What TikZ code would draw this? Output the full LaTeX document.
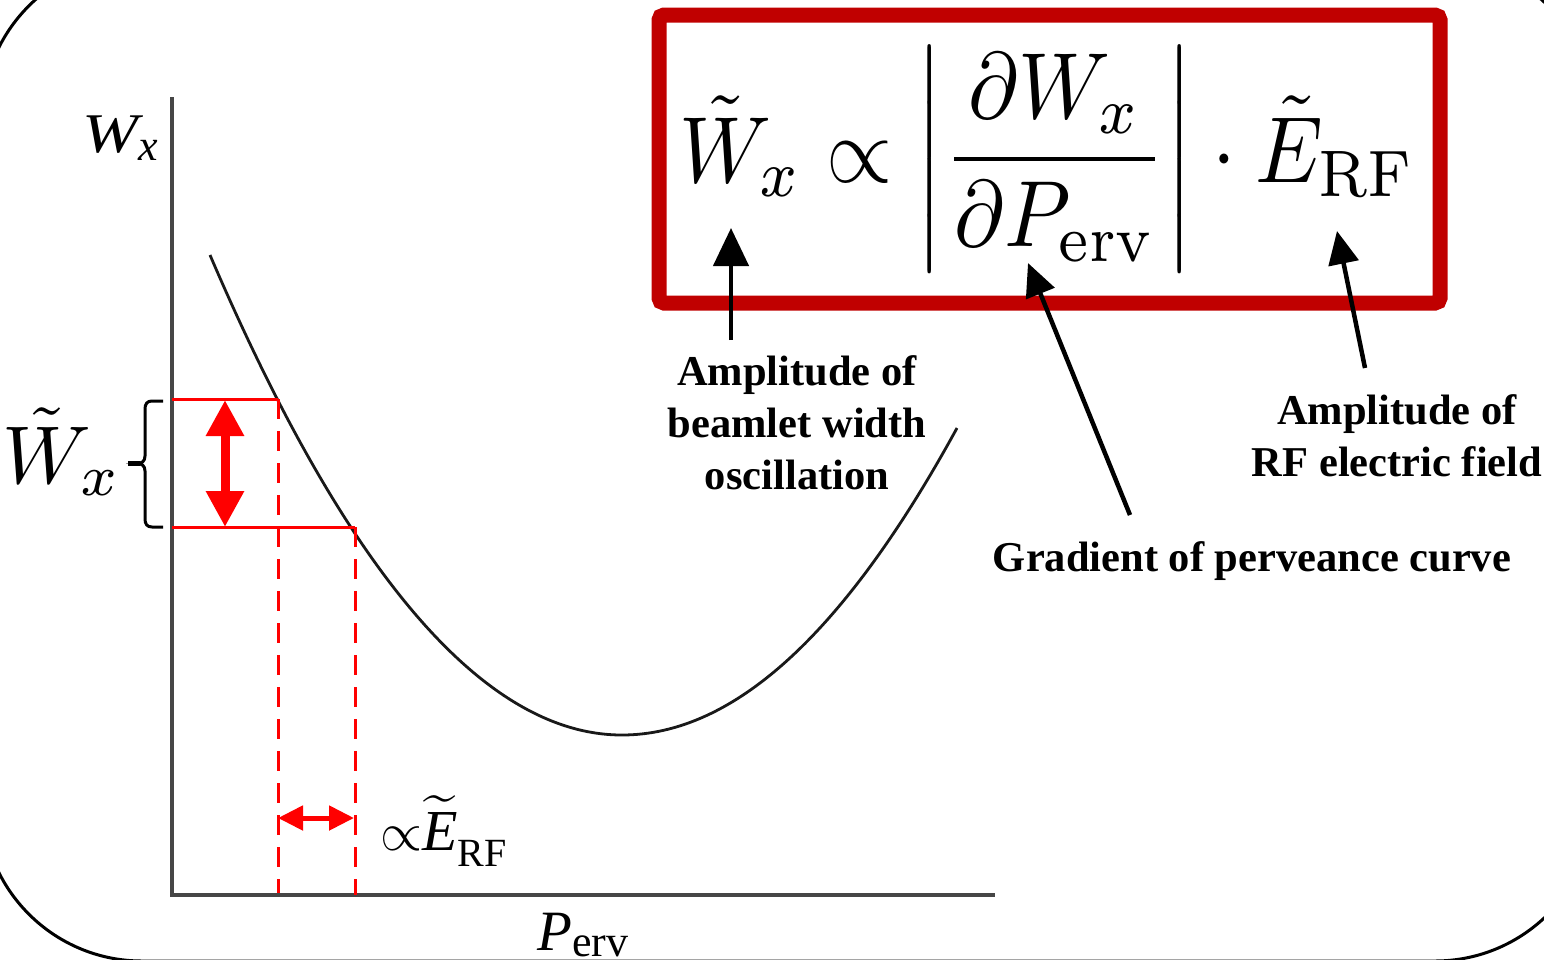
\documentclass[tikz,border=0pt]{standalone}
\usepackage{graphicx}
\usepackage{fontspec}
\newfontfamily\tnr{Liberation Serif}
\usetikzlibrary{arrows.meta}
\definecolor{boxred}{RGB}{192,0,0}
\definecolor{linered}{RGB}{255,0,0}
\definecolor{axisgray}{RGB}{70,70,70}
\definecolor{curvegray}{RGB}{25,25,25}
\begin{document}
\begin{tikzpicture}[x=1pt,y=-1pt,
  redline/.style={linered, line width=3pt},
  reddash/.style={linered, line width=3pt, dash pattern=on 20pt off 12pt},
  axisline/.style={axisgray, line width=4pt},
  callout/.style={black, line width=4.5pt, -{Triangle[length=33pt,width=30pt]}},
  lbl/.style={font=\tnr\bfseries\fontsize{42.5}{52}\selectfont, align=center, inner sep=0pt},
]
\useasboundingbox (0,0) rectangle (1544,959);
% outer frame
\draw[line width=3pt, rounded corners=160pt] (-18,-41) rectangle (1595,961);

% axes
\coordinate (ytop) at (172,97);
\coordinate (origin) at (172,895);
\coordinate (xend) at (995,895);
\draw[axisline] (ytop) -- (origin) -- (xend);

% curve
\coordinate (cstart) at (210,255);
\coordinate (cmin) at (622,735);
\coordinate (cend) at (957,428);
\draw[curvegray, line width=2.8pt] (cstart) .. controls (347,575) and (485,735) .. (cmin)
  .. controls (734,735) and (845,633) .. (cend);

% red construction lines
\coordinate (h1a) at (172,399); \coordinate (h1b) at (278,399);
\coordinate (h2a) at (172,527); \coordinate (h2b) at (355,527);
\coordinate (d1) at (278,893); \coordinate (d2) at (355,895);
\draw[redline] (h1a) -- (h1b);
\draw[redline] (h2a) -- (h2b);
\draw[reddash] (h1b) -- (d1);
\draw[reddash] (h2b) -- (d2);

% red double arrows
\coordinate (va1) at (225,400); \coordinate (va2) at (225,527);
\draw[linered, line width=9pt, {Triangle[length=36pt,width=36pt]}-{Triangle[length=36pt,width=36pt]}] (va1) -- (va2);
\coordinate (ha1) at (278,818); \coordinate (ha2) at (354,818);
\draw[linered, line width=5pt, {Triangle[length=25pt,width=24pt]}-{Triangle[length=25pt,width=24pt]}] (ha1) -- (ha2);

% brace
\coordinate (br1) at (163,527); \coordinate (br2) at (163,401);
\coordinate (brtip) at (128,463.5);
\draw[line width=3pt] (br2) -- (152,401) .. controls (147,401) and (145,404) .. (145,409)
  -- (145,456) .. controls (145,461) and (142,463.5) .. (137,463.5)
  .. controls (142,463.5) and (145,466) .. (145,471)
  -- (145,519) .. controls (145,524) and (147,527) .. (152,527) -- (br1);
\draw[line width=5pt] (brtip) -- (140,463.5);

% labels on the plot
\node[anchor=base, inner sep=0pt] (wtl) at (62,483) {\scalebox{8.2}{$\tilde{W}_x$}};
\node[anchor=base, inner sep=0pt] (ylab) at (120,152) {\tnr\itshape\fontsize{56}{56}\selectfont\scalebox{1.2}[1]{W}\raisebox{-8pt}{\fontsize{44}{44}\selectfont x}};
\node[anchor=base, inner sep=0pt] (xlab) at (583,950) {\tnr\fontsize{57}{57}\selectfont\textit{P}\raisebox{-6pt}{\fontsize{44}{44}\selectfont erv}};
\node[anchor=base west, inner sep=0pt] (erf) at (380,850) {\scalebox{5.4}{$\propto$}\scalebox{5.8}{$\widetilde{\hbox{\tnr\itshape E}}$}\raisebox{-16pt}{\tnr\fontsize{40}{40}\selectfont RF}};

% formula box
\node[draw=boxred, line width=15pt, rounded corners=5pt, minimum width=781pt, minimum height=288pt, inner sep=0pt] (eq) at (1049.5,159)
 {\hspace*{-4pt}\scalebox{8.5}[9.4]{$\displaystyle \tilde{W}_x \propto \left|\frac{\partial W_x}{\partial P_{\mathrm{erv}}}\right| \cdot \tilde{E}_{\mathrm{RF}}$}};

% callout labels
\node[lbl] (amp1) at (797,423) {Amplitude of\\beamlet width\\oscillation};
\node[lbl] (amp2) at (1397,436) {Amplitude of\\RF electric field};
\node[lbl, anchor=base] (grad) at (1252,571) {Gradient of perveance curve};

% callout arrows
\coordinate (t1) at (731,228); \coordinate (s1) at (731,340);
\coordinate (t2) at (1028,263); \coordinate (s2) at (1130,515);
\coordinate (t3) at (1337,231); \coordinate (s3) at (1365,368);
\draw[callout, -{Triangle[length=38pt,width=35pt]}] (s1) -- (t1);
\draw[callout] (s2) -- (t2);
\draw[callout] (s3) -- (t3);
\end{tikzpicture}
\end{document}
